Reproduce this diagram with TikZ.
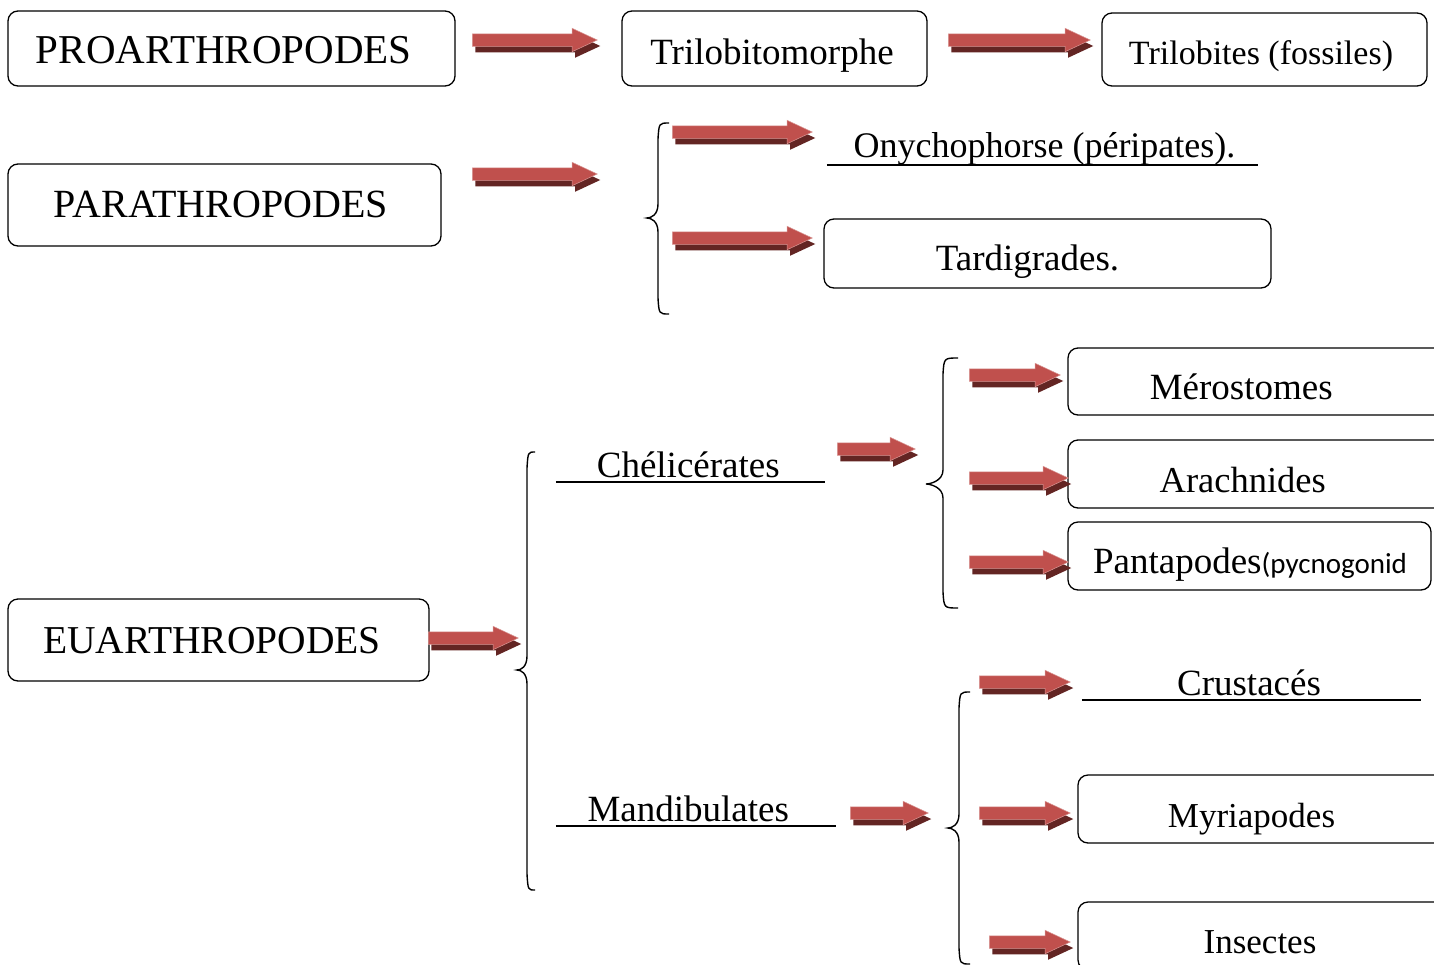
\documentclass[tikz,border=0pt]{standalone}
\usepackage{fontspec}
\setmainfont{Liberation Serif}
\newfontfamily\carl{Carlito}
\usetikzlibrary{shapes.arrows,shadows}
\definecolor{arrowred}{RGB}{192,80,77}
\definecolor{arrowdark}{RGB}{99,37,35}
\newcommand\shl[2]{\hskip-#1\relax#2\hskip#1\relax}
\newcommand\fs[1]{\fontsize{#1}{#1}\selectfont}
\newcommand\mybrace[6]{%
  \draw[brc] (#1,#4) .. controls (#2+1,#4) .. (#2,#4+16) -- (#2,#5-14)
    .. controls (#2,#5-3) and (#3+4,#5) .. (#3,#5)
    .. controls (#3+4,#5) and (#2,#5+3) .. (#2,#5+14) -- (#2,#6-16)
    .. controls (#2+1,#6) .. (#1,#6);}
\begin{document}
\begin{tikzpicture}[x=1pt,y=-1pt,
  box/.style={draw, rounded corners=10pt, line width=1.3pt, inner sep=0pt, text depth=0pt},
  ultext/.style={inner sep=0pt, anchor=base},
  ulline/.style={line width=1.8pt},
  brc/.style={line width=1.4pt},
  fat/.style={single arrow, single arrow head extend=5.5pt, single arrow tip angle=50,
    inner xsep=0pt, inner ysep=6pt, text height=0pt, text depth=0pt,
    fill=arrowred, draw=arrowred!60!white, line width=0.5pt,
    general shadow={fill=arrowdark, draw=none, shadow xshift=3pt, shadow yshift=-6pt}, anchor=tail}
]
\useasboundingbox (0,0) rectangle (1434,964);
\clip (0,0) rectangle (1434,964);

% boxes
\node[box, minimum width=447pt, minimum height=75pt, text height=29pt] (pro) at (231.5,48.5) {\fs{41}\shl{15.5pt}{PROARTHROPODES}};
\node[box, minimum width=305pt, minimum height=75pt, text height=31pt] (trilm) at (774.5,48.5) {\fs{37}\shl{5pt}{Trilobitomorphe}};
\node[box, minimum width=325pt, minimum height=73pt, text height=30pt] (trilb) at (1264.5,49.5) {\fs{34}\shl{7pt}{Trilobites (fossiles)}};
\node[box, minimum width=433pt, minimum height=82pt, text height=24pt] (para) at (224.5,205) {\fs{40}\shl{7pt}{PARATHROPODES}};
\node[box, minimum width=447pt, minimum height=69pt, text height=33pt] (tard) at (1047.5,253.5) {\fs{37}\shl{40pt}{Tardigrades.}};
\node[box, minimum width=421pt, minimum height=82pt, text height=26pt] (eu) at (218.5,640) {\fs{39.5}\shl{13pt}{EUARTHROPODES}};
\node[box, minimum width=377pt, minimum height=67pt, text height=35pt] (mero) at (1256.5,381.5) {\fs{37}\shl{30.5pt}{Mérostomes}};
\node[box, minimum width=377pt, minimum height=68pt, text height=36pt] (arach) at (1256.5,474) {\fs{36.5}\shl{27.5pt}{Arachnides}};
\node[box, minimum width=363pt, minimum height=68pt, text height=34pt] (panta) at (1249.5,556) {\fs{37}\shl{-1pt}{Pantapodes{\carl\fs{29}(pycnogonid}}};
\node[box, minimum width=367pt, minimum height=68pt, text height=36pt] (myria) at (1261.5,809) {\fs{35}\shl{20pt}{Myriapodes}};
\node[box, minimum width=367pt, minimum height=68pt, text height=34pt] (insect) at (1261.5,936) {\fs{35}\shl{3pt}{Insectes}};

% underlined labels
\node[ultext, minimum width=431pt, text height=26pt, text depth=8pt] (ony) at (1042.5,157) {\fs{36}\shl{-4pt}{Onychophorse (péripates).}};
\node[ultext, minimum width=269pt, text height=26pt, text depth=5pt] (chel) at (690.5,477) {\fs{37}\shl{4.5pt}{Chélicérates}};
\node[ultext, minimum width=280pt, text height=26pt, text depth=5pt] (mand) at (696,821) {\fs{37}\shl{15.5pt}{Mandibulates}};
\node[ultext, minimum width=339pt, text height=26pt, text depth=5pt] (crust) at (1251.5,695) {\fs{37}\shl{5pt}{Crustacés}};
\draw[ulline] (ony.south west) -- (ony.south east);
\draw[ulline] (chel.south west) -- (chel.south east);
\draw[ulline] (mand.south west) -- (mand.south east);
\draw[ulline] (crust.south west) -- (crust.south east);

% braces
\mybrace{669}{658}{647}{123}{218}{314}
\mybrace{958}{943}{926}{358}{484}{608}
\mybrace{535}{527}{517}{452}{670}{890}
\mybrace{970}{959}{948}{692}{828}{964}

% arrows
\node[fat, minimum height=125pt] (a1) at (472,40) {};
\node[fat, minimum height=142pt] (a2) at (948,40) {};
\node[fat, minimum height=125pt] (a3) at (472,174) {};
\node[fat, minimum height=140pt] (a4) at (672,132) {};
\node[fat, minimum height=140pt] (a5) at (672,238) {};
\node[fat, minimum height=78pt] (a6) at (837,449) {};
\node[fat, minimum height=91pt] (a7) at (969,375) {};
\node[fat, minimum height=99pt] (a8) at (969,478) {};
\node[fat, minimum height=99pt] (a9) at (969,562) {};
\node[fat, minimum height=90pt] (a10) at (428,638) {};
\node[fat, minimum height=78pt] (a11) at (850,813) {};
\node[fat, minimum height=91pt] (a12) at (979,682) {};
\node[fat, minimum height=91pt] (a13) at (979,813) {};
\node[fat, minimum height=81pt] (a14) at (989,942) {};
\end{tikzpicture}
\end{document}
